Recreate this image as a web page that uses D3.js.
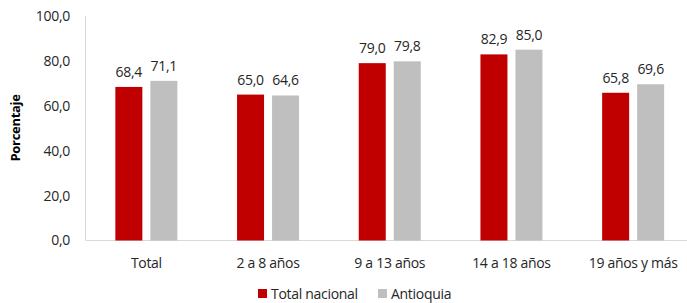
<!DOCTYPE html>
<html>
<head>
<meta charset="utf-8">
<script src="https://cdn.jsdelivr.net/npm/d3@7"></script>
<style>
  body { margin: 0; background: #fff; }
  text { font-family: "Open Sans", "Noto Sans", sans-serif; fill: #262626; font-size: 14px; letter-spacing: -0.3px; }
</style>
</head>
<body>
<script>
// data
var categories = ["Total", "2 a 8 años", "9 a 13 años", "14 a 18 años", "19 años y más"];
var series = ["Total nacional", "Antioquia"];
var nacional = [68.4, 65.0, 79.0, 82.9, 65.8];
var antioquia = [71.1, 64.6, 79.8, 85.0, 69.6];
var yTicks = [0, 20, 40, 60, 80, 100];

var width = 687, height = 303;
var color = d3.scaleOrdinal().domain(series).range(["#C00000", "#BFBFBF"]);

var locale = d3.formatLocale({decimal: ",", thousands: ".", grouping: [3], currency: ["", ""]});
var fmt = locale.format(".1f");

var svg = d3.select("body").append("svg")
    .attr("width", width)
    .attr("height", height);

var y = d3.scaleLinear().domain([0, 100]).range([240.5, 16]);

var x0 = d3.scaleBand()
    .domain(categories)
    .range([85.5, 694]);

// two bars per group, 27px each with 8px gap
var x1 = d3.scaleBand()
    .domain(series)
    .range([0, 62])
    .paddingInner(2 - 62 / 35);

var rows = categories.map(function(c, i) {
    return {cat: c, values: [
        {key: series[0], value: nacional[i]},
        {key: series[1], value: antioquia[i]}
    ]};
});

// axes lines
svg.append("line")
    .attr("x1", 85.5).attr("x2", 85.5)
    .attr("y1", y(100)).attr("y2", y(0))
    .attr("stroke", "#d9d9d9");

svg.append("line")
    .attr("x1", 85.5).attr("x2", width)
    .attr("y1", y(0)).attr("y2", y(0))
    .attr("stroke", "#d9d9d9");

// y tick labels
svg.selectAll(".ytick")
    .data(yTicks)
    .enter().append("text")
    .attr("class", "ytick")
    .attr("x", 70)
    .attr("y", function(d) { return y(d); })
    .attr("dy", "0.35em")
    .attr("text-anchor", "end")
    .text(function(d) { return fmt(d); });

// y title
svg.append("text")
    .attr("transform", "translate(20,128) rotate(-90)")
    .attr("text-anchor", "middle")
    .style("font-size", "13px")
    .style("font-weight", "bold")
    .style("fill", "#000")
    .text("Porcentaje");

var g = svg.selectAll(".grp")
    .data(rows)
    .enter().append("g")
    .attr("class", "grp")
    .attr("transform", function(d) {
        return "translate(" + (x0(d.cat) + x0.bandwidth() / 2 - 31) + ",0)";
    });

g.selectAll("rect")
    .data(function(d) { return d.values; })
    .enter().append("rect")
    .attr("x", function(d) { return x1(d.key); })
    .attr("width", x1.bandwidth())
    .attr("y", function(d) { return y(d.value); })
    .attr("height", function(d) { return y(0) - y(d.value); })
    .attr("fill", function(d) { return color(d.key); });

g.selectAll(".lbl")
    .data(function(d) { return d.values; })
    .enter().append("text")
    .attr("class", "lbl")
    .attr("x", function(d) { return x1(d.key) + x1.bandwidth() / 2; })
    .attr("y", function(d) { return y(d.value) - 10; })
    .attr("text-anchor", "middle")
    .text(function(d) { return fmt(d.value); });

// category labels
svg.selectAll(".xlab")
    .data(categories)
    .enter().append("text")
    .attr("class", "xlab")
    .attr("x", function(d) { return x0(d) + x0.bandwidth() / 2; })
    .attr("y", 263)
    .attr("dy", "0.35em")
    .attr("text-anchor", "middle")
    .text(function(d) { return d; });

// legend
var legX = [258, 378];
var leg = svg.selectAll(".leg")
    .data(series)
    .enter().append("g")
    .attr("class", "leg")
    .attr("transform", function(d, i) { return "translate(" + legX[i] + ",289)"; });

leg.append("rect")
    .attr("width", 9).attr("height", 9)
    .attr("fill", function(d) { return color(d); });

leg.append("text")
    .attr("x", 13)
    .attr("y", 5)
    .attr("dy", "0.35em")
    .text(function(d) { return d; });
</script>
</body>
</html>
